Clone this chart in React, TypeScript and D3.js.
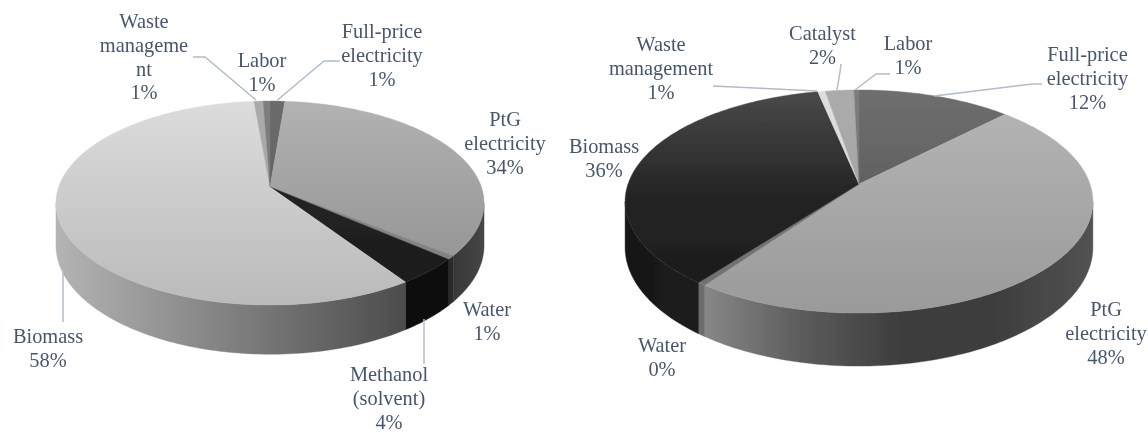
import React from "react";
import * as d3 from "d3";

// ---------- data (clockwise from 12 o'clock) ----------
const leftCategories = ["Full-price electricity", "PtG electricity", "Water", "Methanol (solvent)", "Biomass", "Waste management", "Labor"];
const leftShares = [1.3, 34.4, 0.6, 4.3, 58.0, 0.8, 0.6];
const rightCategories = ["Full-price electricity", "PtG electricity", "Water", "Biomass", "Waste management", "Catalyst", "Labor"];
const rightShares = [12.4, 47.5, 0.5, 36.3, 0.6, 2.3, 0.4];

const leftLabels = [
  ["Full-price", "electricity", "1%"],
  ["PtG", "electricity", "34%"],
  ["Water", "1%"],
  ["Methanol", "(solvent)", "4%"],
  ["Biomass", "58%"],
  ["Waste", "manageme", "nt", "1%"],
  ["Labor", "1%"],
];
const rightLabels = [
  ["Full-price", "electricity", "12%"],
  ["PtG", "electricity", "48%"],
  ["Water", "0%"],
  ["Biomass", "36%"],
  ["Waste", "management", "1%"],
  ["Catalyst", "2%"],
  ["Labor", "1%"],
];

// ---------- layout ----------
type Geo = { cx: number; cy: number; R: number; H: number; s: number; T: number };
const leftGeo: Geo = { cx: 270, cy: 187, R: 211.4, H: 99.5, s: 0.157, T: 41.5 };
const rightGeo: Geo = { cx: 859, cy: 184, R: 231, H: 108.8, s: 0.157, T: 44.7 };

const leftLabelPos = [[382, 38], [505, 126], [487, 316], [389, 381], [48, 343], [144, 28], [262, 67]];
const rightLabelPos = [[1087.5, 61], [1106, 316], [662, 352], [604, 153], [661, 51], [822.5, 40], [908, 50]];

const leftLeaders = [
  [[193, 57], [205, 57], [256, 100]],
  [[340, 61], [324, 61], [277.5, 100]],
  [[63, 269], [63, 322]],
  [[424, 319], [424, 364]],
];
const rightLeaders = [
  [[713, 86], [817, 91]],
  [[841, 64], [840, 72], [837, 90]],
  [[890, 74], [876, 74], [855, 90]],
  [[1042, 84], [1032, 84], [934, 96]],
];

// ---------- styles ----------
const leftTop = [["#6c6c6c", "#555555"], ["#b2b2b2", "#8e8e8e"], ["#8c8c8c", "#808080"], ["#2a2a2a", "#1a1a1a"], ["#dcdcdc", "#bababa"], ["#ababab", "#a0a0a0"], ["#7e7e7e", "#707070"]];
const leftSide = [["#555", "#555"], ["#383838", "#464646"], ["#2c2c2c", "#2c2c2c"], ["#0a0a0a", "#0c0c0c"], ["#b4b4b4", "#808080", "#4c4c4c"], ["#999", "#999"], ["#777", "#777"]];
const rightTop = [["#6e6e6e", "#505050"], ["#b6b6b6", "#9a9a9a"], ["#7a7a7a", "#707070"], ["#4a4a4a", "#222222", "#1c1c1c"], ["#dddddd", "#d5d5d5"], ["#ababab", "#a0a0a0"], ["#7c7c7c", "#707070"]];
const rightSide = [["#555", "#555"], ["#878787", "#5c5c5c", "#3e3e3e", "#3e3e3e", "#525252"], ["#6c6c6c", "#6c6c6c"], ["#161616", "#1e1e1e"], ["#ccc", "#ccc"], ["#999", "#999"], ["#777", "#777"]];

const TEXT = "#47566e";
const LEADER = "#b0bccc";
const FONT = 20.4;
const LINE = 23.8;

function project(g: Geo, a: number, h: number, r = 1): [number, number] {
  const u = Math.sin(a) * r;
  const v = Math.cos(a) * r;
  const f = 1 / (1 + g.s * v);
  return [g.cx + g.R * u * f, g.cy + (-g.H * v + h) * f];
}

const samples = (a0: number, a1: number) => {
  const n = Math.max(2, Math.ceil((a1 - a0) / 0.02));
  return d3.range(n + 1).map((i) => a0 + ((a1 - a0) * i) / n);
};

const path = d3.line<[number, number]>().x((d) => d[0]).y((d) => d[1]);

function Pie3D({ id, geo, shares, cats, labels, pos, leaders, top, side }: any) {
  const arcs = d3.pie<number>().sort(null).startAngle(0).endAngle(2 * Math.PI)(shares);
  const sil = Math.acos(-geo.s);
  const visLo = sil;
  const visHi = 2 * Math.PI - sil;
  const yTop = project(geo, 0, 0)[1];
  const yBot = project(geo, Math.PI, 0)[1];

  const walls = arcs
    .map((a: any, i: number) => {
      const lo = Math.max(a.startAngle, visLo);
      const hi = Math.min(a.endAngle, visHi);
      if (hi <= lo) return null;
      const ang = samples(lo, hi);
      const up = ang.map((t) => project(geo, t, 0));
      const down = ang.map((t) => project(geo, t, geo.T)).reverse();
      const xs = up.map((p) => p[0]);
      return { i, d: path([...up, ...down])! + "Z", x0: d3.min(xs)!, x1: d3.max(xs)! };
    })
    .filter(Boolean) as any[];

  return (
    <g>
      <defs>
        {arcs.map((_: any, i: number) => (
          <linearGradient key={i} id={`${id}t${i}`} gradientUnits="userSpaceOnUse" x1={0} x2={0} y1={yTop} y2={yBot}>
            {top[i].map((c: string, k: number) => (
              <stop key={k} offset={k / (top[i].length - 1)} stopColor={c} />
            ))}
          </linearGradient>
        ))}
        {walls.map((w) => (
          <linearGradient key={w.i} id={`${id}s${w.i}`} gradientUnits="userSpaceOnUse" x1={w.x0} x2={w.x1} y1={0} y2={0}>
            {side[w.i].map((c: string, k: number) => (
              <stop key={k} offset={k / (side[w.i].length - 1)} stopColor={c} />
            ))}
          </linearGradient>
        ))}
      </defs>
      {walls.map((w) => (
        <path key={w.i} d={w.d} fill={`url(#${id}s${w.i})`} stroke={`url(#${id}s${w.i})`} strokeWidth={0.4} />
      ))}
      {arcs.map((a: any, i: number) => {
        const pts = samples(a.startAngle, a.endAngle).map((t) => project(geo, t, 0));
        const d = path([[geo.cx, geo.cy], ...pts])! + "Z";
        return (
          <path key={i} d={d} fill={`url(#${id}t${i})`} stroke={`url(#${id}t${i})`} strokeWidth={0.4}>
            <title>{cats[i]}</title>
          </path>
        );
      })}
      {leaders.map((l: [number, number][], i: number) => (
        <path key={i} d={path(l)!} fill="none" stroke={LEADER} strokeWidth={1.5} />
      ))}
      {labels.map((lines: string[], i: number) => (
        <text key={i} textAnchor="middle" fontFamily="'Liberation Serif'" fontSize={FONT} fill={TEXT}>
          {lines.map((t, k) => (
            <tspan key={k} x={pos[i][0]} y={pos[i][1] + k * LINE}>
              {t}
            </tspan>
          ))}
        </text>
      ))}
    </g>
  );
}

export default function App() {
  return (
    <svg width={1148} height={433} style={{ position: "absolute", left: 0, top: 0, background: "#fff" }}>
      <defs>
        <filter id="soft" x="0" y="0" width="100%" height="100%">
          <feGaussianBlur stdDeviation="0.45" />
        </filter>
      </defs>
      <g filter="url(#soft)">
        <Pie3D id="l" geo={leftGeo} shares={leftShares} cats={leftCategories} labels={leftLabels} pos={leftLabelPos} leaders={leftLeaders} top={leftTop} side={leftSide} />
        <Pie3D id="r" geo={rightGeo} shares={rightShares} cats={rightCategories} labels={rightLabels} pos={rightLabelPos} leaders={rightLeaders} top={rightTop} side={rightSide} />
      </g>
    </svg>
  );
}
